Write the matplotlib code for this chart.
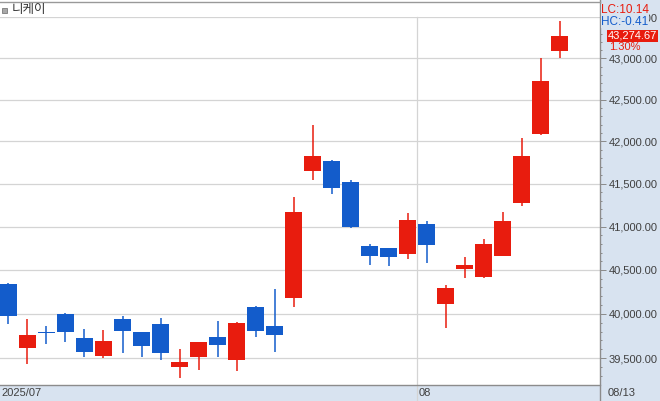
import numpy as np
import matplotlib.pyplot as plt
from matplotlib.ticker import FixedLocator, NullFormatter, FuncFormatter
from matplotlib.patches import Rectangle
from matplotlib.lines import Line2D

# Nikkei daily candles, 2025-07-01 .. 2025-08-13
dates = ["07/01", "07/02", "07/03", "07/04", "07/07", "07/08", "07/09", "07/10",
         "07/11", "07/14", "07/15", "07/16", "07/17", "07/18", "07/22", "07/23",
         "07/24", "07/25", "07/28", "07/29", "07/30", "07/31",
         "08/01", "08/04", "08/05", "08/06", "08/07", "08/08", "08/12", "08/13"]
opens = [40340, 39618, 39795, 39998, 39727, 39529, 39942, 39795, 39885, 39406,
         39518, 39739, 39484, 40078, 39863, 40184, 41653, 41768, 41521, 40776,
         40753, 40687, 41030, 40115, 40514, 40423, 40664, 41278, 42092, 43092]
highs = [40347, 39942, 39863, 40010, 39829, 39818, 39976, 39795, 39953, 39604,
         39682, 39919, 39908, 40089, 40282, 41345, 42196, 41780, 41541, 40799,
         40753, 41158, 41065, 40328, 40649, 40857, 41170, 42041, 43004, 43455]
lows = [39882, 39440, 39663, 39686, 39518, 39507, 39563, 39518, 39484, 39283,
        39373, 39518, 39362, 39742, 39573, 40081, 41544, 41384, 40987, 40560,
        40549, 40629, 40583, 39844, 40411, 40411, 40664, 41243, 42080, 43007]
closes = [39979, 39761, 39780, 39798, 39573, 39694, 39810, 39641, 39563, 39459,
          39682, 39652, 39897, 39810, 39765, 41170, 41827, 41454, 40999, 40664,
          40652, 41077, 40790, 40294, 40557, 40799, 41065, 41827, 42724, 43274.67]

title = "니케이"
first_label = "2025/07"
last_label = "08/13"
lc_text = "LC:10.14"
hc_text = "HC:-0.41"
change_text = "1.30%"
y_ticks = [39500, 40000, 40500, 41000, 41500, 42000, 42500, 43000, 43500]
y_minor = list(range(39300, 43500, 100))

red = "#e81c0e"
blue = "#135ccb"
panel = "#d8e3f0"
grid = "#d4d4d4"
edge = "#8c8c8c"
txt = "#404040"

W, H = 660, 401
fig = plt.figure(figsize=(W / 100, H / 100), dpi=100)
fig.patch.set_facecolor("white")
ax = fig.add_axes([0, 16 / H, 600 / W, (385 - 17.45) / H])

# panels
fig.patches.append(Rectangle((600 / W, 0), 60 / W, 1, transform=fig.transFigure,
                             fc=panel, ec="none", zorder=-5))
fig.patches.append(Rectangle((0, 0), 1, 16 / H, transform=fig.transFigure,
                             fc=panel, ec="none", zorder=-5))

x = np.arange(len(dates))
o = np.array(opens, dtype=float)
h = np.array(highs, dtype=float)
l = np.array(lows, dtype=float)
c = np.array(closes, dtype=float)
up = c >= o
cols = np.where(up, red, blue)

ax.set_yscale("log")
ax.set_ylim(39203, 43500)
ax.set_xlim(-0.447, 31.13)

for v in y_ticks:
    ax.axhline(v, color=grid, lw=0.9, zorder=0)

ax.vlines(x, l, h, colors=cols, lw=1.1, zorder=2)
body_lo = np.minimum(o, c)
body_h = np.maximum(np.abs(c - o), 8)
ax.bar(x, body_h, bottom=body_lo, width=0.895, color=cols, zorder=3)

# month boundaries
months = [d[:2] for d in dates]
for i in range(1, len(dates)):
    if months[i] != months[i - 1]:
        ax.axvline(i - 0.5, ymin=-16 / 367.55, ymax=1, color=grid, lw=0.9,
                   clip_on=False, zorder=0)
        ax.annotate(months[i], xy=(i - 0.5, 0), xycoords=("data", "axes fraction"),
                    xytext=(1.5, -5.8), textcoords="offset points", va="center",
                    ha="left", fontsize=8, color=txt, family="Liberation Sans",
                    annotation_clip=False)
ax.annotate(first_label, xy=(0, 0), xycoords="axes fraction", xytext=(0.7, -5.8),
            textcoords="offset points", va="center", ha="left", fontsize=8,
            color=txt, family="Liberation Sans", annotation_clip=False)
ax.annotate(last_label, xy=(1, 0), xycoords="axes fraction", xytext=(5.8, -5.8),
            textcoords="offset points", va="center", ha="left", fontsize=8,
            color=txt, family="Liberation Sans", annotation_clip=False)

# y axis on the right
ax.yaxis.tick_right()
ax.yaxis.set_major_locator(FixedLocator(y_ticks))
ax.yaxis.set_minor_locator(FixedLocator(y_minor))
ax.yaxis.set_major_formatter(FuncFormatter(lambda v, p: f"{v:,.2f}"))
ax.yaxis.set_minor_formatter(NullFormatter())
ax.tick_params(axis="y", which="major", length=4.3, width=0.72, color=edge,
               pad=2.2, labelsize=8, labelcolor=txt)
ax.tick_params(axis="y", which="minor", length=1.6, width=0.72, color=edge)
for t in ax.get_yticklabels():
    t.set_family("Liberation Sans")
ax.set_xticks([])
for s in ["top", "left", "right"]:
    ax.spines[s].set_visible(False)
ax.spines["bottom"].set_color(edge)
ax.spines["bottom"].set_linewidth(1.0)

fig.add_artist(Line2D([600 / W, 600 / W], [0, 1], color=edge, lw=1.0))
fig.add_artist(Line2D([0, 600 / W], [1 - 1.5 / H] * 2, color="#999999", lw=1.0))

# header
fig.add_artist(Rectangle((2 / W, 1 - 13 / H), 5 / W, 5 / H, transform=fig.transFigure,
                         fc="#a8a8a8", ec="#7a7a7a", lw=0.6))
fig.text(12 / W, 1 - 9.5 / H, title, family=["Noto Sans CJK KR", "DejaVu Sans"],
         fontsize=9, va="center", ha="left", color="#333333")

# right side info
fig.text(601 / W, 1 - 10 / H, lc_text, color=red, fontsize=8.5, va="center",
         family="Liberation Sans", bbox=dict(fc=panel, ec="none", pad=0.3))
fig.text(601 / W, 1 - 22 / H, hc_text, color=blue, fontsize=8.5, va="center",
         family="Liberation Sans", bbox=dict(fc=panel, ec="none", pad=0.3))
ax.annotate(f"{closes[-1]:,.2f}", xy=(1, closes[-1]), xycoords=("axes fraction", "data"),
            xytext=(5.8, 0), textcoords="offset points", va="center", ha="left",
            fontsize=8, color="white", family="Liberation Sans", annotation_clip=False,
            bbox=dict(boxstyle="square,pad=0.1", fc=red, ec="none"))
ax.annotate(change_text, xy=(1, closes[-1]), xycoords=("axes fraction", "data"),
            xytext=(6.5, -7.9), textcoords="offset points", va="center", ha="left",
            fontsize=8, color=red, family="Liberation Sans", annotation_clip=False)

fig.savefig("out.png", dpi=100)
